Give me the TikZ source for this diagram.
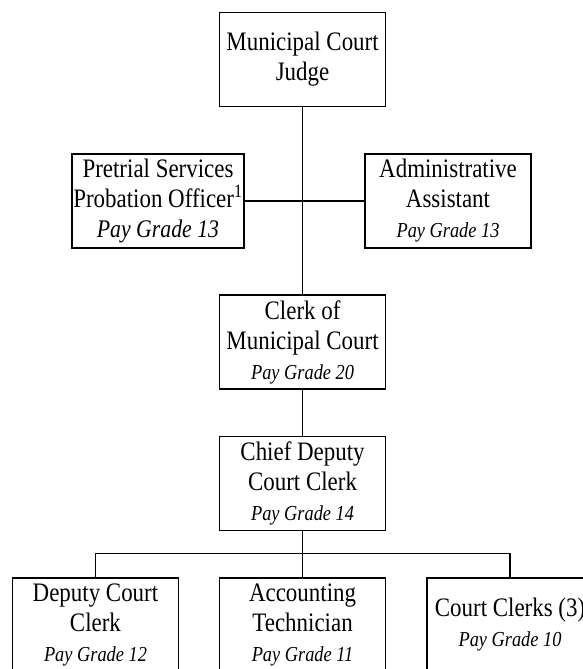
\documentclass[tikz,border=0pt]{standalone}
\usepackage{fontspec}
\setmainfont[FakeStretch=0.86]{Liberation Serif}
\usepackage{tikz}
\tikzstyle{post} = [rectangle, minimum width=124.5pt, minimum height=70.5pt, inner sep=1pt, text centered, align=center, draw=black, line width=1.3pt, font=\fontsize{20}{22.5}\selectfont]
\tikzstyle{link} = [line width=1.3pt]
\newcommand{\grade}[1]{{\fontsize{16}{22.5}\selectfont\itshape Pay Grade #1}}

\begin{document}
\begin{tikzpicture}[node distance=106pt]
	\useasboundingbox (-226.9pt,44.6pt) rectangle (209.6pt,-457.1pt);
	\node (judge) [post] {Municipal Court\\Judge};
	\node (pretrial) [post, below of=judge, xshift=-108.4pt] {Pretrial Services\\Probation Officer\textsuperscript{1}\\{\fontsize{19}{22.5}\selectfont\itshape Pay Grade 13}};
	\node (admin) [post, below of=judge, xshift=109.1pt] {Administrative\\Assistant\\\grade{13}};
	\node (clerk) [post, below of=judge, yshift=-106pt] {Clerk of\\Municipal Court\\\grade{20}};
	\node (chief) [post, below of=clerk] {Chief Deputy\\Court Clerk\\\grade{14}};
	\node (acct) [post, below of=chief] {Accounting\\Technician\\\grade{11}};
	\node (deputy) [post, node distance=155.3pt, left of=acct] {Deputy Court\\Clerk\\\grade{12}};
	\node (clerks) [post, node distance=155.6pt, right of=acct] {Court Clerks (3)\\\grade{10}};

	\draw [link] (judge) -- (clerk);
	\draw [link] (pretrial) -- (admin);
	\draw [link] (clerk) -- (chief);
	\draw [link] (chief) -- (acct);
	\draw [link] (deputy.north) -- ++(0,17.6pt) -| (clerks.north);
\end{tikzpicture}
\end{document}
